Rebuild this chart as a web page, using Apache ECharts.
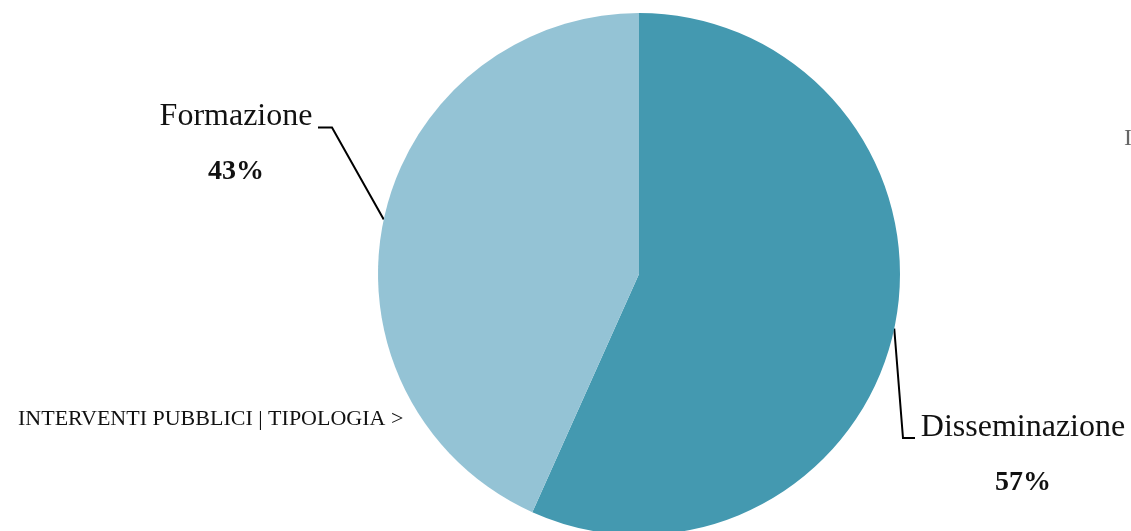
<!DOCTYPE html>
<html>
<head>
<meta charset="utf-8">
<script src="https://cdn.jsdelivr.net/npm/echarts@6/dist/echarts.min.js"></script>
<style>
html,body{margin:0;padding:0;background:#fff;}
#c{width:1131px;height:531px;}
</style>
</head>
<body>
<div id="c"></div>
<script>
const categories = ['Disseminazione', 'Formazione'];
const values = [56.7, 43.3];
const colors = ['#4499B0', '#94C3D5'];

// label layout (screen placement of the labels and their leader lines)
const labelPlace = [
  { cx: 1023, top: 400, bend: [903, 438], end: [915, 438] },
  { cx: 236, top: 89.5, bend: [332, 127.5], end: [318, 127.5] }
];

const chart = echarts.init(document.getElementById('c'));
chart.setOption({
  backgroundColor: '#ffffff',
  animation: false,
  graphic: [
    {
      type: 'text', left: 18, top: 408,
      style: { text: 'INTERVENTI PUBBLICI | TIPOLOGIA >', font: '22px "Liberation Serif"', fill: '#111' },
      z: 10
    },
    {
      type: 'text', left: 1124, top: 127,
      style: { text: 'I', font: '24px "Liberation Serif"', fill: '#666' },
      z: 10
    }
  ],
  series: [{
    type: 'pie',
    center: [639, 274],
    radius: 261,
    startAngle: 90,
    clockwise: true,
    percentPrecision: 0,
    data: categories.map((n, i) => ({ name: n, value: values[i], itemStyle: { color: colors[i] } })),
    itemStyle: { borderWidth: 0 },
    label: {
      show: true,
      formatter: '{n|{b}}\n{p|{d}%}',
      align: 'center',
      overflow: 'none',
      width: 260,
      rich: {
        n: { fontFamily: 'Liberation Serif', fontSize: 32, color: '#111', lineHeight: 55, align: 'center' },
        p: { fontFamily: 'Liberation Serif', fontSize: 28, fontWeight: 'bold', color: '#111', lineHeight: 55, align: 'center' }
      }
    },
    labelLine: { show: true, length: 20, length2: 15, lineStyle: { color: '#000', width: 2 } },
    labelLayout: function (params) {
      const p = labelPlace[params.dataIndex];
      const start = params.labelLinePoints ? params.labelLinePoints[0] : p.bend;
      return {
        x: p.cx, y: p.top, align: 'center', verticalAlign: 'top',
        labelLinePoints: [start, p.bend, p.end]
      };
    }
  }]
});
</script>
</body>
</html>
